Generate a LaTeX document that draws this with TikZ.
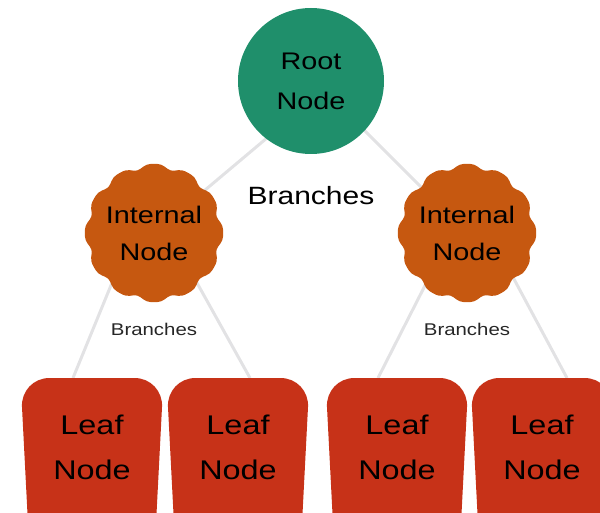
\documentclass[tikz,border=0pt]{standalone}
\usepackage{fontspec}
\setmainfont{Liberation Sans}[FakeStretch=1.2]
\usetikzlibrary{calc,positioning}
\pgfdeclarelayer{links}
\pgfdeclarelayer{blobs}
\pgfsetlayers{links,blobs,main}
\definecolor{rootgreen}{RGB}{31,143,107}
\definecolor{innerorange}{RGB}{198,88,16}
\definecolor{leafred}{RGB}{199,50,24}
\definecolor{branchgray}{RGB}{226,226,228}
\tikzset{
  rootnode/.style={
    circle,
    fill=rootgreen,
    minimum size=146pt,
    inner sep=0pt,
    align=center,
    font=\fontsize{24}{40}\selectfont
  },
  innernode/.style={
    circle,
    minimum size=136pt,
    inner sep=0pt,
    align=center,
    font=\fontsize{24}{37}\selectfont
  },
  leafnode/.style={
    inner sep=0pt,
    align=center,
    font=\fontsize{27}{45}\selectfont
  },
  leafshape/.style={
    fill=leafred,
    rounded corners=29pt
  },
  branch/.style={
    draw=branchgray,
    line width=3pt
  },
  bigtag/.style={font=\fontsize{25}{30}\selectfont},
  smalltag/.style={font=\fontsize{17}{20}\selectfont, text=black!85}
}

\begin{document}
\begin{tikzpicture}[x=1pt, y=-1pt]
  \useasboundingbox (0,0) rectangle (600,513);

  \node[rootnode] (root) at (311,81) {Root\\Node};
  \node[innernode] (int1) at (154,233) {Internal\\Node};
  \node[innernode] (int2) at (467,233) {Internal\\Node};
  \node[leafnode] (leaf1) at (92,447) {Leaf\\Node};
  \node[leafnode] (leaf2) at (238,447) {Leaf\\Node};
  \node[leafnode] (leaf3) at (397,447) {Leaf\\Node};
  \node[leafnode] (leaf4) at (542,447) {Leaf\\Node};

  \node[bigtag, anchor=base] (tagtop) at (311,205) {Branches};
  \node[smalltag, anchor=base] (tagleft) at (154,335) {Branches};
  \node[smalltag, anchor=base] (tagright) at (467,335) {Branches};

  % shapes behind the texts
  \begin{pgfonlayer}{blobs}
    \foreach \n in {int1,int2}
      \fill[innerorange, shift={(\n.center)}]
        plot[domain=0:357, samples=120, smooth cycle]
        (\x:{67.5+2.2*(cos(12*\x)-0.25*cos(24*\x))});
    \foreach \n in {leaf1,leaf2,leaf3,leaf4}
      \fill[leafshape] ($(\n)+(-71.5,-69)$) -- ($(\n)+(71.5,-69)$)
        -- ($(\n)+(63,96)$) -- ($(\n)+(-63,96)$) -- cycle;
  \end{pgfonlayer}

  % branches
  \begin{pgfonlayer}{links}
    \coordinate (hub0) at ($(root)+(13,9)$);
    \coordinate (hub1) at ($(int1)+(-6,-38)$);
    \coordinate (hub2) at ($(int2)+(3,-36)$);
    \draw[branch] (hub0) -- (int1.center);
    \draw[branch] (hub0) -- (int2.center);
    \draw[branch] (hub1) -- ($(leaf1)+(-19,-69)$);
    \draw[branch] (hub1) -- ($(leaf2)+(12,-69)$);
    \draw[branch] (hub2) -- ($(leaf3)+(-19,-69)$);
    \draw[branch] (hub2) -- ($(leaf4)+(25,-69)$);
  \end{pgfonlayer}
\end{tikzpicture}
\end{document}
